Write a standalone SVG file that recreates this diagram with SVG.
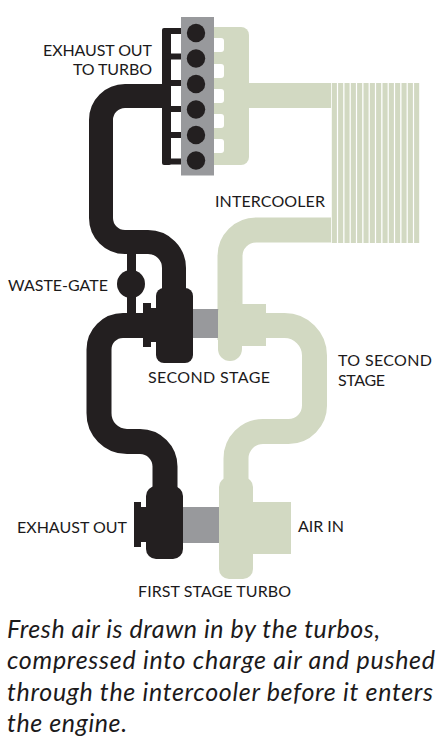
<svg xmlns="http://www.w3.org/2000/svg" width="447" height="740" viewBox="0 0 447 740">
<style>
.k{fill:#231f20}.g{fill:#d2d9c2}.s{fill:#98999c}.w{fill:#fff}
.pk{fill:none;stroke:#231f20;stroke-width:24}
.pg{fill:none;stroke:#d2d9c2;stroke-width:25}
.st{fill:#d2d9c2;width:5.100px;height:160px;y:83px}
text{font-family:Lato,"Open Sans","Liberation Sans",sans-serif;fill:#1c1a1b}
.l{font-size:16px}
.c{font-size:25px;font-style:italic}
</style>
<rect width="447" height="740" fill="#fff"/>
<g id="connectors">
<path class="pk" d="M171 96H125A24 24 0 0 0 101 120V218A24 24 0 0 0 125 242H148A26 26 0 0 1 174 268V300"/>
<path class="pk" style="stroke-width:9" d="M131.500 240V315"/>
<path class="pk" style="stroke-width:25" d="M150 325.500H123A24 24 0 0 0 99 349.500V413A28 28 0 0 0 127 441.500H140A25 25 0 0 1 165 466.500V492"/>
<path class="pg" d="M230 340V256A26 26 0 0 1 256 230H331"/>
<path class="pg" d="M262 325.500H284.500A30 30 0 0 1 314.500 355.500V405A26 26 0 0 1 288.500 431.500H263A27 27 0 0 0 236 458.500V482"/>
<rect class="g" x="245" y="83" width="86" height="25"/>
</g>
<g id="engine-intake">
<rect class="g" x="205" y="27" width="44" height="138" rx="8"/>
<rect class="w" x="205" y="38" width="19" height="14" rx="3"/>
<rect class="w" x="205" y="64" width="19" height="14" rx="3"/>
<rect class="w" x="205" y="89" width="19" height="14" rx="3"/>
<rect class="w" x="205" y="114" width="19" height="14" rx="3"/>
<rect class="w" x="205" y="139" width="19" height="14" rx="3"/>
</g>
<g id="exhaust-manifold">
<rect class="k" x="162" y="28" width="9" height="137" rx="2"/>
<rect class="k" x="165" y="28" width="17" height="6"/>
<rect class="k" x="165" y="53.500" width="17" height="6"/>
<rect class="k" x="165" y="80" width="17" height="6"/>
<rect class="k" x="165" y="106" width="17" height="6"/>
<rect class="k" x="165" y="132" width="17" height="6"/>
<rect class="k" x="165" y="158.500" width="17" height="6"/>
</g>
<g id="engine">
<rect class="s" x="181" y="17" width="33" height="158.500"/>
<circle class="k" cx="196" cy="33" r="9.200"/>
<circle class="k" cx="196" cy="58.500" r="9.200"/>
<circle class="k" cx="196" cy="84" r="9.200"/>
<circle class="k" cx="196" cy="109.500" r="9.200"/>
<circle class="k" cx="196" cy="135" r="9.200"/>
<circle class="k" cx="196" cy="160.500" r="9.200"/>
</g>
<g id="intercooler">
<rect class="st" x="331.800"/>
<rect class="st" x="338.100"/>
<rect class="st" x="344.500"/>
<rect class="st" x="350.800"/>
<rect class="st" x="357.100"/>
<rect class="st" x="363.500"/>
<rect class="st" x="369.800"/>
<rect class="st" x="376.100"/>
<rect class="st" x="382.500"/>
<rect class="st" x="388.800"/>
<rect class="st" x="395.100"/>
<rect class="st" x="401.500"/>
<rect class="st" x="407.800"/>
<rect class="st" x="414.100"/>
</g>
<g id="waste-gate">
<circle class="k" cx="131" cy="284" r="14"/>
</g>
<g id="second-stage-turbo">
<rect class="s" x="190" y="309" width="30" height="29"/>
<rect class="k" x="143" y="303" width="8" height="44"/>
<rect class="k" x="143" y="308" width="20" height="34"/>
<rect class="k" x="156" y="288" width="37" height="75" rx="8"/>
<rect class="g" x="218" y="300" width="24" height="61" rx="12"/>
<rect class="g" x="230" y="304" width="36" height="42"/>
</g>
<g id="first-stage-turbo">
<rect class="s" x="180" y="507" width="42" height="36"/>
<rect class="k" x="134" y="502" width="7" height="45"/>
<rect class="k" x="134" y="507" width="20" height="35"/>
<rect class="k" x="146" y="486" width="37" height="73" rx="10"/>
<rect class="g" x="219" y="477" width="34" height="102" rx="10"/>
<rect class="g" x="245" y="502" width="46" height="52"/>
</g>
<g id="labels">
<text class="l" x="43" y="56" textLength="109">EXHAUST OUT</text>
<text class="l" x="73" y="75" textLength="79">TO TURBO</text>
<text class="l" x="215" y="207" textLength="110">INTERCOOLER</text>
<text class="l" x="8" y="291" textLength="100">WASTE-GATE</text>
<text class="l" x="148" y="383" textLength="122">SECOND STAGE</text>
<text class="l" x="338" y="366" textLength="94">TO SECOND</text>
<text class="l" x="338" y="386" textLength="47">STAGE</text>
<text class="l" x="17" y="533" textLength="110">EXHAUST OUT</text>
<text class="l" x="298" y="532" textLength="46">AIR IN</text>
<text class="l" x="138" y="597" textLength="153">FIRST STAGE TURBO</text>
<text class="c" x="7" y="638" textLength="373">Fresh air is drawn in by the turbos,</text>
<text class="c" x="7" y="669" textLength="428">compressed into charge air and pushed</text>
<text class="c" x="7" y="701" textLength="426">through the intercooler before it enters</text>
<text class="c" x="7" y="732" textLength="120">the engine.</text>
</g>
</svg>
